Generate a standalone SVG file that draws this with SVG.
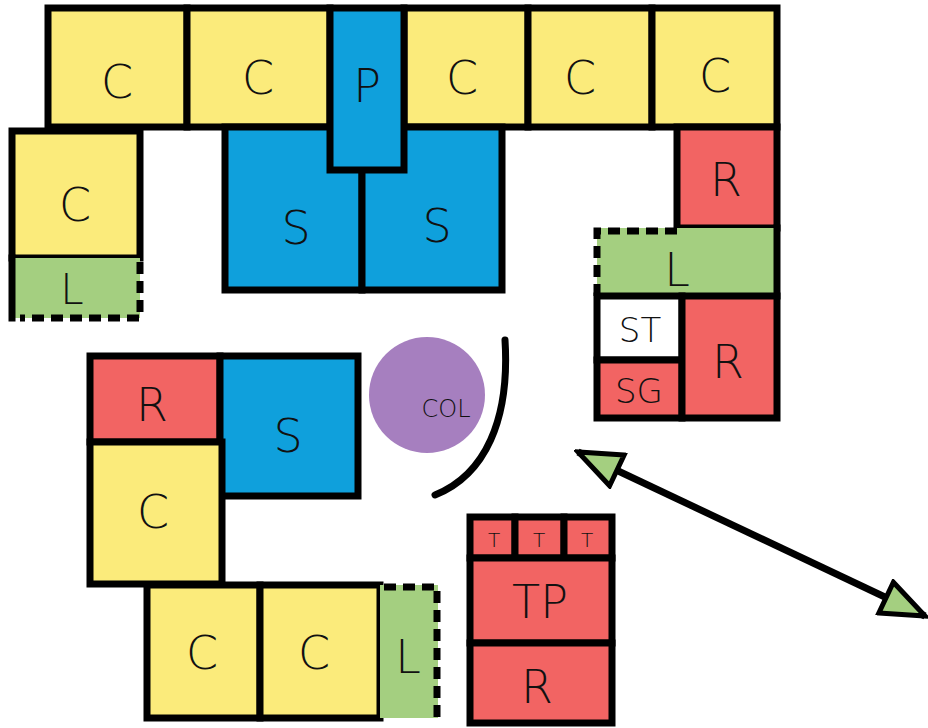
<svg xmlns="http://www.w3.org/2000/svg" width="928" height="728" viewBox="0 0 928 728">
<style>
.y{fill:#FBEB7B}.b{fill:#0FA0DC}.r{fill:#F26463}.g{fill:#A4CF80}.w{fill:#FFFFFF}
.box{stroke:#000;stroke-width:7;stroke-linejoin:miter}
.solid{stroke:#000;stroke-width:7;fill:none;stroke-linecap:square}
.dash{stroke:#000;stroke-width:7;fill:none;stroke-dasharray:12 7}
text{font-family:"DejaVu Sans","Liberation Sans",sans-serif;font-weight:200;fill:#111;text-anchor:middle;dominant-baseline:central}
.big{font-size:46px}.mid{font-size:34px}.sm{font-size:24px}.xs{font-size:20px}
</style>
<defs>
<marker id="head" viewBox="0 0 50 40" refX="46" refY="20" markerWidth="50" markerHeight="40" markerUnits="userSpaceOnUse" orient="auto-start-reverse">
<path d="M3,3 L46,20 L3,37 Z" fill="#A4CF80" stroke="#000" stroke-width="5" stroke-linejoin="miter"/>
</marker>
</defs>

<g id="top-row">
<rect class="y box" x="48" y="8" width="139" height="119"/>
<rect class="y box" x="187" y="8" width="143" height="119"/>
<rect class="y box" x="404" y="8" width="124" height="119"/>
<rect class="y box" x="528" y="8" width="124" height="119"/>
<rect class="y box" x="652" y="8" width="125" height="119"/>
<text class="big" x="117" y="82">C</text>
<text class="big" x="258" y="78">C</text>
<text class="big" x="462" y="78">C</text>
<text class="big" x="580" y="78">C</text>
<text class="big" x="715" y="76">C</text>
</g>

<g id="store-left">
<rect class="b box" x="225" y="127" width="137" height="163"/>
<text class="big" x="296" y="228">S</text>
</g>
<g id="store-right">
<rect class="b box" x="362" y="127" width="140" height="163"/>
<text class="big" x="437" y="226">S</text>
</g>
<g id="p">
<rect class="b box" x="330" y="8" width="74" height="162"/>
<text class="big" x="367" y="86">P</text>
</g>

<g id="left-c">
<rect class="y box" x="12" y="131" width="128" height="127"/>
<text class="big" x="75" y="205">C</text>
</g>
<g id="left-l">
<rect class="g" x="12" y="258" width="128" height="60"/>
<path class="solid" d="M12,258 V318"/>
<path class="dash" d="M140,262 V318 H20"/>
<text x="72" y="289" style="font-size:42px">L</text>
</g>

<g id="right-r">
<rect class="r box" x="677" y="127" width="100" height="101"/>
<text class="big" x="726" y="180">R</text>
</g>
<g id="right-l">
<rect class="g" x="597" y="228" width="180" height="68"/>
<path class="dash" d="M677,231 H597 V296"/>
<path class="solid" d="M777,228 V296"/>
<text class="big" x="677" y="270">L</text>
</g>
<g id="st">
<rect class="w box" x="597" y="296" width="85" height="64"/>
<text class="mid" x="640" y="330">ST</text>
</g>
<g id="sg">
<rect class="r box" x="597" y="360" width="85" height="58"/>
<text class="mid" x="639" y="391">SG</text>
</g>
<g id="right-r2">
<rect class="r box" x="682" y="296" width="95" height="122"/>
<text class="big" x="728" y="362">R</text>
</g>

<g id="bl-r">
<rect class="r box" x="90" y="356" width="130" height="86"/>
<text class="big" x="152" y="405">R</text>
</g>
<g id="bl-s">
<rect class="b box" x="220" y="356" width="138" height="140"/>
<text class="big" x="288" y="436">S</text>
</g>
<g id="bl-c">
<rect class="y box" x="90" y="442" width="132" height="142"/>
<text class="big" x="153" y="512">C</text>
</g>

<g id="bot-c1">
<rect class="y box" x="147" y="585" width="113" height="133"/>
<text class="big" x="202" y="653">C</text>
</g>
<g id="bot-c2">
<rect class="y box" x="260" y="585" width="120" height="133"/>
<text class="big" x="314" y="653">C</text>
</g>
<g id="bot-l">
<rect class="g" x="380" y="585" width="58" height="133"/>
<path class="dash" d="M384,587 H437 V718"/>
<text class="big" x="408" y="657">L</text>
</g>

<g id="col">
<circle cx="427" cy="395" r="58" fill="#A67FBF"/>
<text class="sm" x="446" y="409">COL</text>
</g>
<g id="curve">
<path d="M505,340 C510,420 485,475 435,495" fill="none" stroke="#000" stroke-width="7" stroke-linecap="round"/>
</g>

<g id="t1">
<rect class="r box" x="470" y="517" width="45" height="41"/>
<text class="xs" x="494" y="540">T</text>
</g>
<g id="t2">
<rect class="r box" x="515" y="517" width="49" height="41"/>
<text class="xs" x="539" y="540">T</text>
</g>
<g id="t3">
<rect class="r box" x="564" y="517" width="48" height="41"/>
<text class="xs" x="587" y="540">T</text>
</g>
<g id="tp">
<rect class="r box" x="470" y="558" width="142" height="85"/>
<text class="big" x="540" y="602">TP</text>
</g>
<g id="tp-r">
<rect class="r box" x="470" y="643" width="142" height="80"/>
<text class="big" x="537" y="687">R</text>
</g>

<g id="connectors">
<line x1="578" y1="452" x2="925" y2="616" stroke="#000" stroke-width="7" marker-start="url(#head)" marker-end="url(#head)"/>
</g>
</svg>
